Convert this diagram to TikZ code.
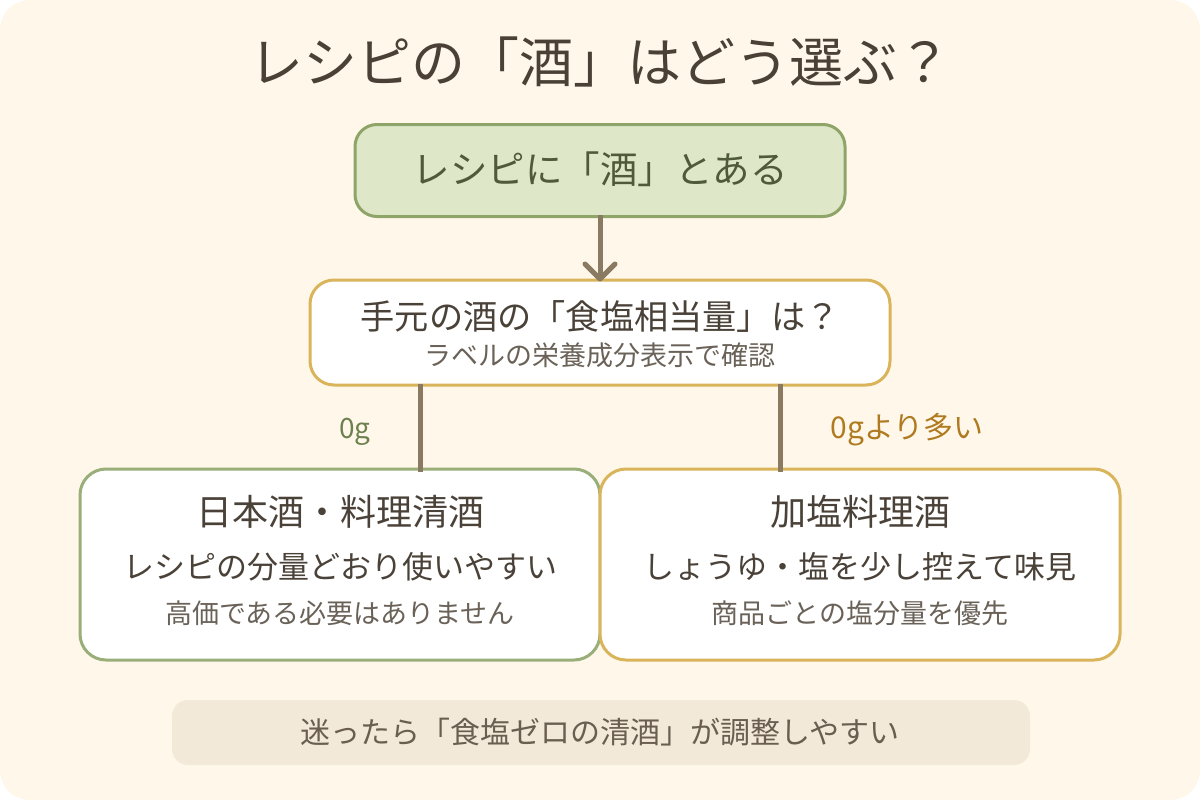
\documentclass[tikz,border=0pt]{standalone}
\usepackage{fontspec}
\setmainfont{Noto Sans CJK JP}
\usetikzlibrary{arrows.meta}
\definecolor{bgcream}{HTML}{FFF8EA}
\definecolor{titlecol}{HTML}{4A4036}
\definecolor{greenfill}{HTML}{DEE8C8}
\definecolor{greenline}{HTML}{8FA468}
\definecolor{greenline2}{HTML}{9AAE7A}
\definecolor{goldline}{HTML}{D9B45A}
\definecolor{conncol}{HTML}{8A7A62}
\definecolor{toptext}{HTML}{4F5A3A}
\definecolor{maintext}{HTML}{4A4238}
\definecolor{subtext}{HTML}{6A6258}
\definecolor{labgreen}{HTML}{6E8050}
\definecolor{laborange}{HTML}{B07A20}
\definecolor{barfill}{HTML}{F3E9D8}
\definecolor{bartext}{HTML}{6A5E50}
\newcommand{\fsz}[1]{\fontsize{#1}{#1}\selectfont}
\tikzset{
  box/.style={rectangle, inner sep=0pt, outer sep=0pt, line width=3pt},
  conn/.style={draw=conncol, line width=5pt},
  txt/.style={inner sep=0pt, outer sep=0pt, anchor=center},
}
\begin{document}
\begin{tikzpicture}[x=1pt,y=-1pt]
\useasboundingbox (0,0) rectangle (1200,800);
\fill[white] (0,0) rectangle (1200,800);
\fill[bgcream, rounded corners=30pt] (0,0) rectangle (1200,800);

\node[txt, text=titlecol] (title) at (600,62) {\fsz{54}レシピの「酒」はどう選ぶ？};

\node[box, draw=greenline, fill=greenfill, rounded corners=22pt, minimum width=490pt, minimum height=92pt] (top) at (600,170.5) {};
\node[txt, text=toptext] (toptxt) at (600,169) {\fsz{37.5}レシピに「酒」とある};

\node[box, draw=goldline, fill=white, rounded corners=24pt, minimum width=580pt, minimum height=105pt] (mid) at (600,332.5) {};
\node[txt, text=maintext] (midtxt) at (600,317) {\fsz{34.2}手元の酒の「食塩相当量」は？};
\node[txt, text=subtext] (midsub) at (600,355) {\fsz{27}ラベルの栄養成分表示で確認};

\node[box, draw=greenline2, fill=white, rounded corners=26pt, minimum width=520pt, minimum height=191pt] (left) at (340,564.5) {};
\node[txt, text=maintext] (lh) at (340,512) {\fsz{36}日本酒・料理清酒};
\node[txt, text=maintext] (l1) at (340,567) {\fsz{31}レシピの分量どおり使いやすい};
\node[txt, text=subtext] (l2) at (340,613) {\fsz{27}高価である必要はありません};

\node[box, draw=goldline, fill=white, rounded corners=26pt, minimum width=520pt, minimum height=191pt] (right) at (860,564.5) {};
\node[txt, text=maintext] (rh) at (860,512) {\fsz{36}加塩料理酒};
\node[txt, text=maintext] (r1) at (860,567) {\fsz{31}しょうゆ・塩を少し控えて味見};
\node[txt, text=subtext] (r2) at (860,613) {\fsz{27}商品ごとの塩分量を優先};

\node[box, fill=barfill, rounded corners=16pt, minimum width=858pt, minimum height=65pt] (bar) at (601,732.5) {};
\node[txt, text=bartext] (bartxt) at (600,732) {\fsz{30}迷ったら「食塩ゼロの清酒」が調整しやすい};

\draw[conn, -{Straight Barb[length=15pt,width=30pt,round]}] ([yshift=1.5pt]top.south) -- ([yshift=-1.5pt]mid.north);
\coordinate (lstart) at ([xshift=-180pt,yshift=1.5pt]mid.south);
\coordinate (rstart) at ([xshift=180pt,yshift=1.5pt]mid.south);
\draw[conn] (lstart) -- ([yshift=-3pt]lstart |- left.north);
\draw[conn] (rstart) -- ([yshift=-3pt]rstart |- right.north);

\node[txt, text=labgreen] (lab0) at (355,432) {\fsz{28}0g};
\node[txt, text=laborange] (labmore) at (907,430) {\fsz{30}0gより多い};
\end{tikzpicture}
\end{document}
